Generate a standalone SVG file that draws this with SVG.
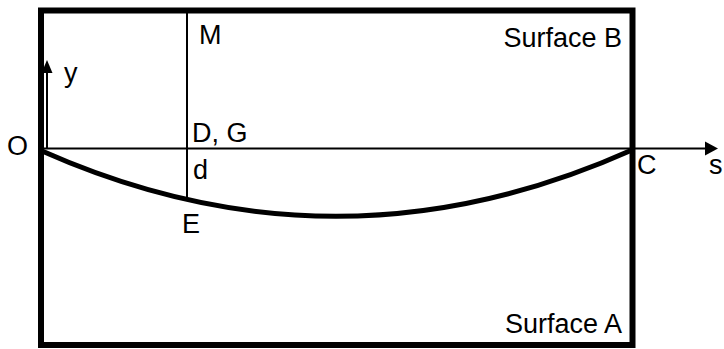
<svg xmlns="http://www.w3.org/2000/svg" width="724" height="349" viewBox="0 0 724 349">
<style>
.t{font-family:"Liberation Sans",Arial,sans-serif;font-size:27px;fill:#000}
.thin{stroke:#000;stroke-width:2;fill:none}
.thick{stroke:#000;stroke-width:5;fill:none}
</style>
<rect x="0" y="0" width="724" height="349" fill="#fff"/>
<g id="frame"><rect x="41" y="10.5" width="591.5" height="334.5" stroke="#000" stroke-width="6" fill="none"/></g>
<g id="connectors">
<line class="thin" x1="42" y1="148.5" x2="706" y2="148.5"/>
<polygon points="718,148.5 705,141.5 705,155.5" fill="#000"/>
<line class="thin" x1="47" y1="149" x2="47" y2="72"/>
<polygon points="47,60 41.5,73 52.5,73" fill="#000"/>
<line class="thin" x1="187" y1="11" x2="187" y2="199"/>
<path class="thick" d="M42,151 Q337,282 632,150"/>
</g>
<g id="labels">
<text class="t" x="199" y="44">M</text>
<text class="t" x="64" y="82">y</text>
<text class="t" x="7" y="155">O</text>
<text class="t" x="192" y="142">D, G</text>
<text class="t" x="193" y="179">d</text>
<text class="t" x="182" y="233">E</text>
<text class="t" x="637" y="174">C</text>
<text class="t" x="709" y="174">s</text>
<text class="t" x="622" y="47" text-anchor="end">Surface B</text>
<text class="t" x="622" y="333" text-anchor="end">Surface A</text>
</g>
</svg>
